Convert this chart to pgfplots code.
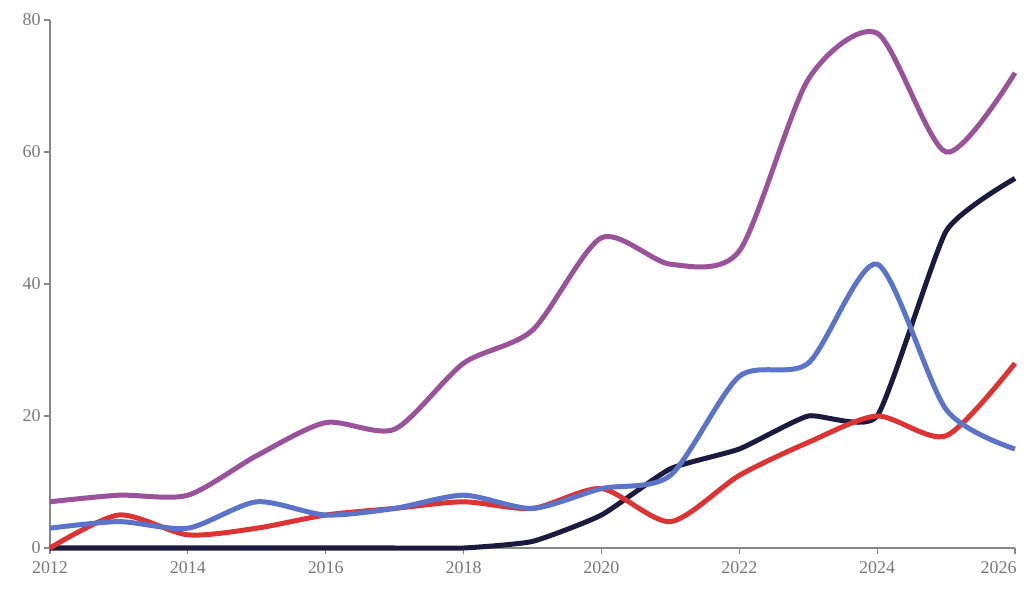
\documentclass[border=0pt]{standalone}
\usepackage{fontspec}
\setmainfont{Liberation Serif}
\usepackage{pgfplots}
\pgfplotsset{compat=1.18}

\definecolor{cPurple}{RGB}{154,83,155}
\definecolor{cNavy}{RGB}{27,27,64}
\definecolor{cBlue}{RGB}{91,115,200}
\definecolor{cRed}{RGB}{221,51,51}
\definecolor{axgray}{RGB}{136,136,136}
\definecolor{txtgray}{RGB}{120,120,120}

\begin{document}
\begin{tikzpicture}
\path[use as bounding box] (-50bp,-44bp) rectangle (982bp,548bp);
\begin{axis}[
    at={(0,0)}, anchor=origin,
    scale only axis,
    width=965bp, height=528bp,
    xmin=2012, xmax=2026,
    ymin=0, ymax=80,
    axis lines=left,
    axis line style={-, draw=axgray, line width=1.2bp},
    xtick={2012,2014,...,2024},
    extra x ticks={2026},
    extra x tick style={xticklabel style={anchor=north east, xshift=5bp}},
    ytick={0,20,40,60,80},
    tick align=outside,
    major tick length=6bp,
    tick style={draw=axgray, line width=1.2bp},
    tick label style={font=\fontsize{18}{20}\selectfont, text=txtgray},
    xticklabel style={yshift=-4bp},
    /pgf/number format/1000 sep={},
    /pgf/number format/assume math mode=true,
    clip=false,
    every axis plot/.append style={line width=5bp, smooth, tension=0.45, no marks},
]
% purple
\addplot[cPurple] coordinates {
(2012,7) (2013,8) (2014,8) (2015,14) (2016,19) (2017,18) (2018,28)
(2019,33) (2020,47) (2021,43) (2022,45) (2023,71) (2024,78) (2025,60) (2026,72)
};
% navy
\addplot[cNavy, tension=0.3] coordinates {
(2012,0) (2013,0) (2014,0) (2015,0) (2016,0) (2017,0) (2018,0)
(2019,1) (2020,5) (2021,12) (2022,15) (2023,20) (2024,20) (2025,48) (2026,56)
};
% red
\addplot[cRed] coordinates {
(2012,0) (2013,5) (2014,2) (2015,3) (2016,5) (2017,6) (2018,7)
(2019,6) (2020,9) (2021,4) (2022,11) (2023,16) (2024,20) (2025,17) (2026,28)
};
% blue
\addplot[cBlue] coordinates {
(2012,3) (2013,4) (2014,3) (2015,7) (2016,5) (2017,6) (2018,8)
(2019,6) (2020,9) (2021,11) (2022,26) (2023,28) (2024,43) (2025,21) (2026,15)
};
\end{axis}
\end{tikzpicture}
\end{document}
